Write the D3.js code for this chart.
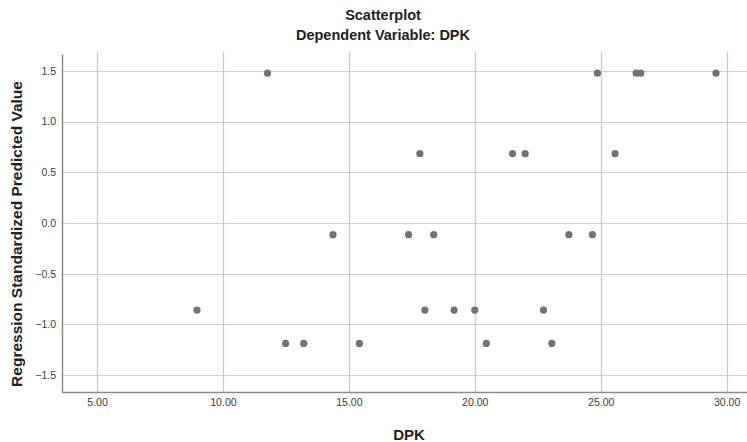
<!DOCTYPE html>
<html>
<head>
<meta charset="utf-8">
<script src="https://cdn.jsdelivr.net/npm/d3@7"></script>
<style>
  body { margin: 0; background: #fff; }
  svg { display: block; font-family: "Liberation Sans", Arial, sans-serif; }
</style>
</head>
<body>
<svg width="747" height="442"></svg>
<script>
const width = 747;
const height = 442;

// data
const dpk = [11.77, 24.87, 26.41, 26.59, 29.58,
             17.82, 21.5, 22.0, 25.57,
             14.37, 17.37, 18.37, 23.74, 24.67,
             8.97, 18.02, 19.18, 20.0, 22.73,
             12.49, 13.21, 15.42, 20.46, 23.06];
const predicted = [1.478, 1.478, 1.478, 1.478, 1.478,
                   0.684, 0.684, 0.684, 0.684,
                   -0.115, -0.115, -0.115, -0.115, -0.115,
                   -0.859, -0.859, -0.859, -0.859, -0.859,
                   -1.188, -1.188, -1.188, -1.188, -1.188];
const xTicks = [5, 10, 15, 20, 25, 30];
const yTicks = [-1.5, -1.0, -0.5, 0.0, 0.5, 1.0, 1.5];

const margin = {top: 54, right: 0, bottom: 50, left: 62};

const svg = d3.select("svg");

const x = d3.scaleLinear()
  .domain([3.61, 30.81])
  .range([margin.left, width - margin.right]);

const y = d3.scaleLinear()
  .domain([-1.667, 1.667])
  .range([height - margin.bottom, margin.top]);

// grid lines
svg.append("g")
  .selectAll("line")
  .data(yTicks)
  .enter().append("line")
    .attr("x1", margin.left)
    .attr("x2", width - margin.right)
    .attr("y1", d => Math.round(y(d)) + 0.5)
    .attr("y2", d => Math.round(y(d)) + 0.5)
    .attr("stroke", "#cfcfcf")
    .attr("stroke-width", 1.2);

svg.append("g")
  .selectAll("line")
  .data(xTicks)
  .enter().append("line")
    .attr("x1", d => Math.round(x(d)) + 0.5)
    .attr("x2", d => Math.round(x(d)) + 0.5)
    .attr("y1", margin.top - 2)
    .attr("y2", height - margin.bottom)
    .attr("stroke", "#c8c8c8")
    .attr("stroke-width", 1.2);

// axes (no tick marks, just labels)
const xAxis = svg.append("g")
  .attr("transform", `translate(0,${height - margin.bottom})`)
  .call(d3.axisBottom(x).tickValues(xTicks).tickFormat(d3.format(".2f")).tickSize(0).tickPadding(7));

const yAxis = svg.append("g")
  .attr("transform", `translate(${margin.left},0)`)
  .call(d3.axisLeft(y).tickValues(yTicks).tickFormat(d3.format(".1f")).tickSize(0).tickPadding(6));

[xAxis, yAxis].forEach(g => {
  g.select(".domain").attr("stroke", "#8c8c8c").attr("stroke-width", 1.5);
  g.selectAll("text")
    .attr("fill", "#3c3c3c")
    .style("font-size", "10.5px");
});

// the dots
svg.append("g")
  .selectAll("circle")
  .data(dpk.map((d, i) => ({dpk: d, pred: predicted[i]})))
  .enter().append("circle")
    .attr("cx", d => x(d.dpk))
    .attr("cy", d => y(d.pred))
    .attr("r", 3.6)
    .attr("fill", "#737373");

// titles
svg.append("text")
  .attr("x", 383)
  .attr("y", 20)
  .attr("text-anchor", "middle")
  .style("font-size", "14.5px")
  .style("font-weight", "bold")
  .attr("fill", "#222")
  .text("Scatterplot");

svg.append("text")
  .attr("x", 383)
  .attr("y", 40)
  .attr("text-anchor", "middle")
  .style("font-size", "14.5px")
  .style("font-weight", "bold")
  .attr("fill", "#222")
  .text("Dependent Variable: DPK");

svg.append("text")
  .attr("x", 409)
  .attr("y", 440)
  .attr("text-anchor", "middle")
  .style("font-size", "15px")
  .style("font-weight", "bold")
  .attr("fill", "#222")
  .text("DPK");

svg.append("text")
  .attr("transform", "translate(22,234) rotate(-90)")
  .attr("text-anchor", "middle")
  .style("font-size", "15.5px")
  .style("font-weight", "bold")
  .attr("fill", "#222")
  .text("Regression Standardized Predicted Value");
</script>
</body>
</html>
